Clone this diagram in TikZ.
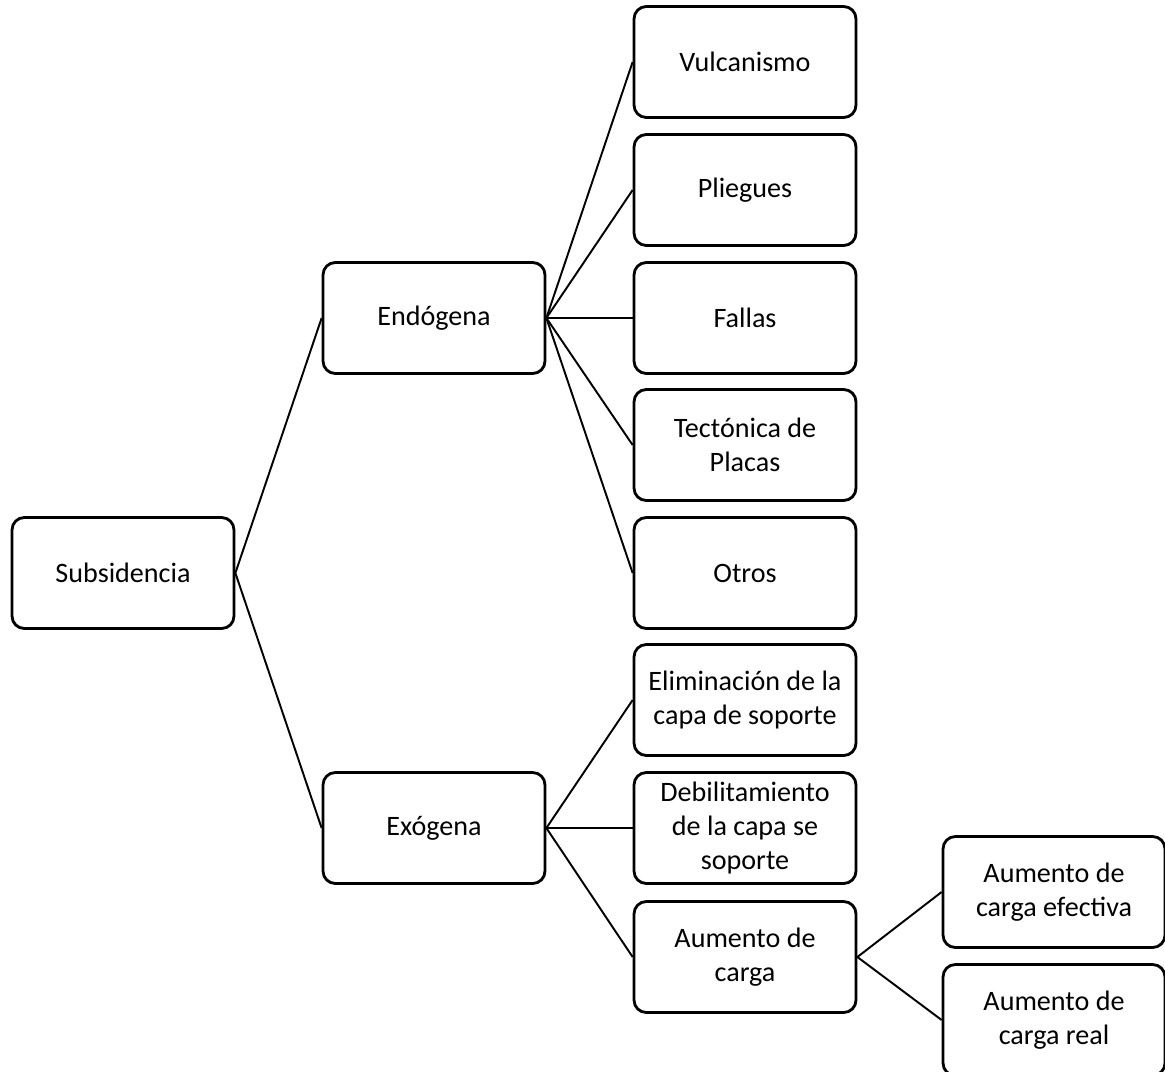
\documentclass[tikz,border=0pt]{standalone}
\usepackage{fontspec}
\setmainfont{Carlito}
\usetikzlibrary{positioning}

\begin{document}
\begin{tikzpicture}[x=0.02cm, y=-0.02cm,
    box/.style={draw, line width=1.6pt, rounded corners=7pt, fill=white,
      minimum width=4.44cm, minimum height=2.22cm, align=center,
      inner sep=2pt, font=\fontsize{16}{19.5}\selectfont},
    link/.style={line width=1.1pt}]
            \useasboundingbox (0,0) rectangle (1165,1071);
            % root
            \node[box] (sub) at (123,573) {Subsidencia};

            % second level
            \node[box] (endo) at (434,318) {Endógena};
            \node[box] (exo) at (434,828) {Exógena};

            % third level
            \node[box] (vul) at (745,62) {Vulcanismo};
            \node[box] (pli) at (745,190) {Pliegues};
            \node[box] (fal) at (745,318) {Fallas};
            \node[box] (tec) at (745,445) {Tectónica de\\Placas};
            \node[box] (otr) at (745,573) {Otros};
            \node[box] (eli) at (745,700) {Eliminación de la\\capa de soporte};
            \node[box] (deb) at (745,828) {Debilitamiento\\de la capa se\\soporte};
            \node[box] (aum) at (745,957) {Aumento de\\carga};

            % fourth level
            \node[box] (efe) at (1054,892) {Aumento de\\carga efectiva};
            \node[box] (rea) at (1054,1020) {Aumento de\\carga real};

            % links
            \draw[link] (sub.east) -- (endo.west);
            \draw[link] (sub.east) -- (exo.west);
            \foreach \c in {vul,pli,fal,tec,otr}
              \draw[link] (endo.east) -- (\c.west);
            \foreach \c in {eli,deb,aum}
              \draw[link] (exo.east) -- (\c.west);
            \draw[link] (aum.east) -- (efe.west);
            \draw[link] (aum.east) -- (rea.west);
\end{tikzpicture}
\end{document}
